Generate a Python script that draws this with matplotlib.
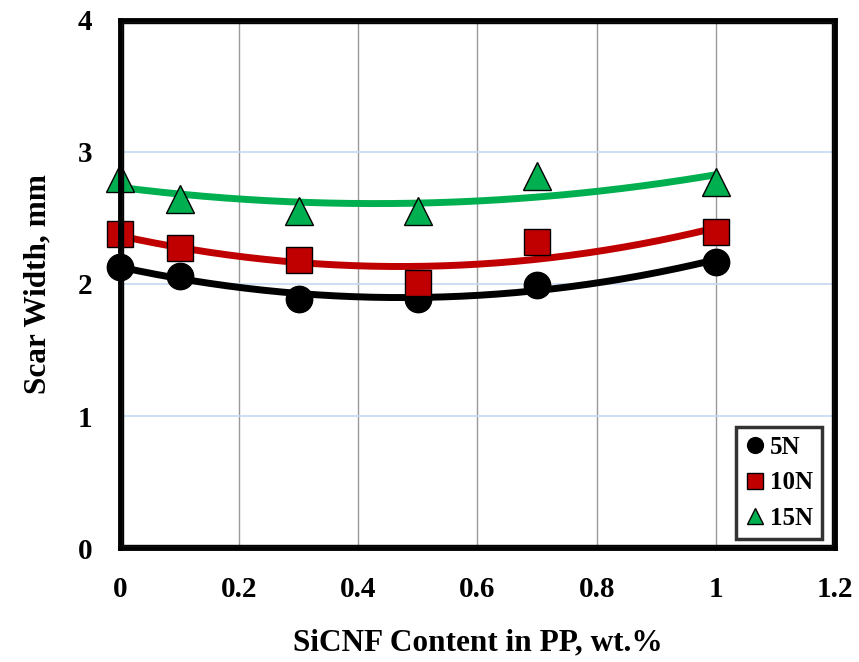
import numpy as np
import matplotlib
matplotlib.use("Agg")
import matplotlib.pyplot as plt
from matplotlib.patches import Rectangle

x = [0, 0.1, 0.3, 0.5, 0.7, 1.0]
s5 = [2.13, 2.06, 1.89, 1.89, 1.99, 2.17]
s10 = [2.38, 2.27, 2.18, 2.01, 2.32, 2.39]
s15 = [2.80, 2.64, 2.55, 2.55, 2.82, 2.77]
labels = ["5N", "10N", "15N"]
colors = ["#000000", "#C00000", "#00B050"]
markers = ["o", "s", "^"]

plt.rcParams['font.family'] = ['Liberation Serif', 'DejaVu Serif']
plt.rcParams['font.weight'] = 'bold'

fig = plt.figure(figsize=(8.59, 6.62), dpi=100)
ax = fig.add_axes([0.1397, 0.172, 0.8323, 0.798])

ax.set_xlim(0, 1.2)
ax.set_ylim(0, 4)
ax.set_xticks([0, 0.2, 0.4, 0.6, 0.8, 1, 1.2])
ax.set_xticklabels(["0", "0.2", "0.4", "0.6", "0.8", "1", "1.2"])
ax.set_yticks([0, 1, 2, 3, 4])

for xv in [0.2, 0.4, 0.6, 0.8, 1.0]:
    ax.axvline(xv, color="#999999", lw=1.0, zorder=1)
for yv in [1, 2, 3]:
    ax.axhline(yv, color="#C5D9F1", lw=1.2, zorder=1)

xs = np.linspace(0, 1, 200)
handles = []
for ys, lab, c, m in zip([s5, s10, s15], labels, colors, markers):
    p = np.polyfit(x, ys, 2)
    ax.plot(xs, np.polyval(p, xs), color=c, lw=5, zorder=3, solid_capstyle='butt')
    h, = ax.plot(x, ys, linestyle='none', marker=m, ms=19 if m != '^' else 20,
                 markerfacecolor=c, markeredgecolor='black', markeredgewidth=1,
                 zorder=4, label=lab, clip_on=False)
    handles.append(h)

for sp in ax.spines.values():
    sp.set_linewidth(3.5)
    sp.set_zorder(5)
ax.add_patch(Rectangle((0.004, 0.005), 0.992, 0.99, transform=ax.transAxes,
                       fill=False, lw=1, ec='black', zorder=5, clip_on=False))

ax.tick_params(axis='both', length=0, labelsize=21, pad=20)
for t in ax.get_xticklabels() + ax.get_yticklabels():
    t.set_fontweight('bold')

ax.set_xlabel("SiCNF Content in PP, wt.%", fontsize=22.5, fontweight='bold', labelpad=18)
ax.set_ylabel("Scar Width, mm", fontsize=22.5, fontweight='bold', labelpad=18)

leg = ax.legend(handles=handles, loc='lower right', bbox_to_anchor=(0.982, 0.018),
                borderaxespad=0, fontsize=18, frameon=True, fancybox=False,
                edgecolor='black', markerscale=0.6, handlelength=0.8,
                handletextpad=0.2, labelspacing=0.5, borderpad=0.35)
leg.get_frame().set_linewidth(2.5)
for t in leg.get_texts():
    t.set_fontweight('bold')

fig.savefig("out.png", dpi=100)
